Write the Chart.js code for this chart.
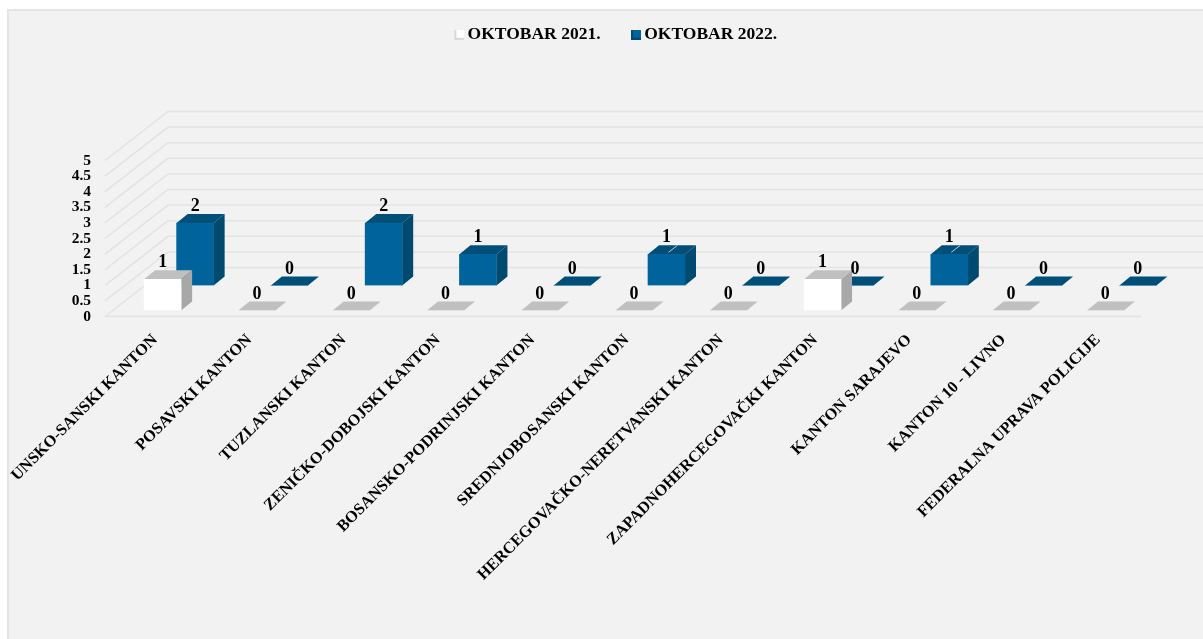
<!DOCTYPE html>
<html>
<head>
<meta charset="utf-8">
<style>
html, body { margin: 0; padding: 0; background: #fff; }
#wrap { width: 1203px; height: 639px; }
</style>
<script src="https://cdn.jsdelivr.net/npm/chart.js@4"></script>
</head>
<body>
<div id="wrap"><canvas id="chart"></canvas></div>
<script>
const categories = [
    'UNSKO-SANSKI KANTON', 'POSAVSKI KANTON', 'TUZLANSKI KANTON',
    'ZENIČKO-DOBOJSKI KANTON', 'BOSANSKO-PODRINJSKI KANTON',
    'SREDNJOBOSANSKI KANTON', 'HERCEGOVAČKO-NERETVANSKI KANTON',
    'ZAPADNOHERCEGOVAČKI KANTON', 'KANTON SARAJEVO',
    'KANTON 10 - LIVNO', 'FEDERALNA UPRAVA POLICIJE'
]
const oktobar2021 = [1, 0, 0, 0, 0, 0, 0, 1, 0, 0, 0]
const oktobar2022 = [2, 0, 2, 1, 0, 1, 0, 0, 1, 0, 0]
const leaderBars = [5, 8]

const FONT = '"Liberation Serif", serif'
const DEPTH_X = 63
const DEPTH_Y = -49
const BAR_DX = 11
const BAR_DY = -9

function legendMarker(front, shade) {
    const c = document.createElement('canvas')
    c.width = 12
    c.height = 10
    const g = c.getContext('2d')
    g.fillStyle = shade
    g.fillRect(2, 0, 10, 10)
    g.fillStyle = front
    g.fillRect(4, 0, 8, 8)
    return c
}

// extrudes the bars by hand, chart.js only gives the front face
const bars3d = {
    id: 'bars3d',
    afterLayout(chart) {
        // legend sits above the wall, away from the centre of the plot
        const l = chart.legend
        l.left += 46
        l.right += 46
        l.top -= 107
        l.bottom -= 107
    },
    beforeDraw(chart) {
        const ctx = chart.ctx
        ctx.save()
        ctx.fillStyle = '#e4e4e4'
        ctx.fillRect(7, 9, chart.width, chart.height)
        ctx.fillStyle = '#f2f2f2'
        ctx.fillRect(9, 11, chart.width, chart.height)
        ctx.restore()
    },
    beforeDatasetsDraw(chart) {
        const ctx = chart.ctx
        const y = chart.scales.y
        const left = chart.chartArea.left
        ctx.save()
        ctx.strokeStyle = '#e3e3e3'
        ctx.lineWidth = 1.5
        y.ticks.forEach(t => {
            const py = y.getPixelForValue(t.value)
            ctx.beginPath()
            ctx.moveTo(left - 1, py)
            ctx.lineTo(left - 1 + DEPTH_X, py + DEPTH_Y)
            ctx.lineTo(chart.width, py + DEPTH_Y)
            ctx.stroke()
        })
        const base = y.getPixelForValue(0)
        ctx.beginPath()
        ctx.moveTo(left - 1, base)
        ctx.lineTo(chart.chartArea.right - 2, base)
        ctx.stroke()
        ctx.restore()
    },
    beforeDatasetDraw(chart, args) {
        const ctx = chart.ctx
        const ds = chart.data.datasets[args.index]
        const meta = args.meta
        ctx.save()
        ctx.translate(ds.shiftX, ds.shiftY)
        meta.data.forEach(bar => {
            const l = bar.x - bar.width / 2
            const r = bar.x + bar.width / 2
            ctx.fillStyle = ds.sideColor
            ctx.beginPath()
            ctx.moveTo(r, bar.y)
            ctx.lineTo(r + BAR_DX, bar.y + BAR_DY)
            ctx.lineTo(r + BAR_DX, bar.base + BAR_DY)
            ctx.lineTo(r, bar.base)
            ctx.closePath()
            ctx.fill()
            ctx.fillStyle = ds.topColor
            ctx.beginPath()
            ctx.moveTo(l, bar.y)
            ctx.lineTo(l + BAR_DX, bar.y + BAR_DY)
            ctx.lineTo(r + BAR_DX, bar.y + BAR_DY)
            ctx.lineTo(r, bar.y)
            ctx.closePath()
            ctx.fill()
        })
    },
    afterDatasetDraw(chart) {
        chart.ctx.restore()
    },
    afterDatasetsDraw(chart) {
        const ctx = chart.ctx
        ctx.save()
        // small leader lines left over from the moved labels
        const blue = chart.data.datasets[1]
        ctx.strokeStyle = '#b9c9d4'
        ctx.lineWidth = 1
        leaderBars.forEach(i => {
            const bar = chart.getDatasetMeta(1).data[i]
            const cx = bar.x + blue.shiftX
            const cy = bar.y + blue.shiftY
            ctx.beginPath()
            ctx.moveTo(cx + 2, cy - 2)
            ctx.lineTo(cx + 11, cy - 9)
            ctx.stroke()
        })
        ctx.fillStyle = '#000'
        ctx.font = 'bold 18px ' + FONT
        ctx.textAlign = 'center'
        ctx.textBaseline = 'middle'
        chart.data.datasets.forEach((ds, d) => {
            chart.getDatasetMeta(d).data.forEach((bar, i) => {
                ctx.fillText(String(ds.data[i]), bar.x + ds.shiftX, bar.y + ds.shiftY - 16.5)
            })
        })
        ctx.restore()
    }
}

new Chart(document.getElementById('chart'), {
    type: 'bar',
    plugins: [bars3d],
    data: {
        labels: categories,
        datasets: [{
            label: 'OKTOBAR 2021.',
            data: oktobar2021,
            backgroundColor: '#ffffff',
            sideColor: '#a8a8a8',
            topColor: '#c0c0c0',
            pointStyle: legendMarker('#ffffff', '#d9d9d9'),
            shiftX: 9.5,
            shiftY: -6
        }, {
            label: 'OKTOBAR 2022.',
            data: oktobar2022,
            backgroundColor: '#00639b',
            sideColor: '#004a70',
            topColor: '#004f78',
            pointStyle: legendMarker('#00639b', '#004a70'),
            shiftX: 42,
            shiftY: -31
        }]
    },
    options: {
        responsive: true,
        maintainAspectRatio: false,
        animation: false,
        layout: { padding: { top: 99, right: 60, bottom: 0, left: 0 } },
        datasets: { bar: { grouped: false, barThickness: 37 } },
        scales: {
            x: {
                grid: { display: false },
                border: { display: false },
                afterFit(scale) { scale.height = 322.5 },
                ticks: {
                    minRotation: 45,
                    maxRotation: 45,
                    autoSkip: false,
                    padding: 6,
                    labelOffset: 2,
                    color: '#000',
                    font: { family: FONT, weight: 'bold', size: 16.3 }
                }
            },
            y: {
                min: 0,
                max: 5,
                grid: { display: false },
                border: { display: false },
                afterFit(scale) { scale.width = 106 },
                ticks: {
                    stepSize: 0.5,
                    autoSkip: false,
                    padding: 7,
                    color: '#000',
                    font: { family: FONT, weight: 'bold', size: 15.5 },
                    callback: v => String(v)
                }
            }
        },
        plugins: {
            tooltip: { enabled: false },
            legend: {
                position: 'top',
                labels: {
                    usePointStyle: true,
                    boxWidth: 1,
                    padding: 34,
                    color: '#000',
                    font: { family: FONT, weight: 'bold', size: 17.5 }
                }
            }
        }
    }
})
</script>
</body>
</html>
